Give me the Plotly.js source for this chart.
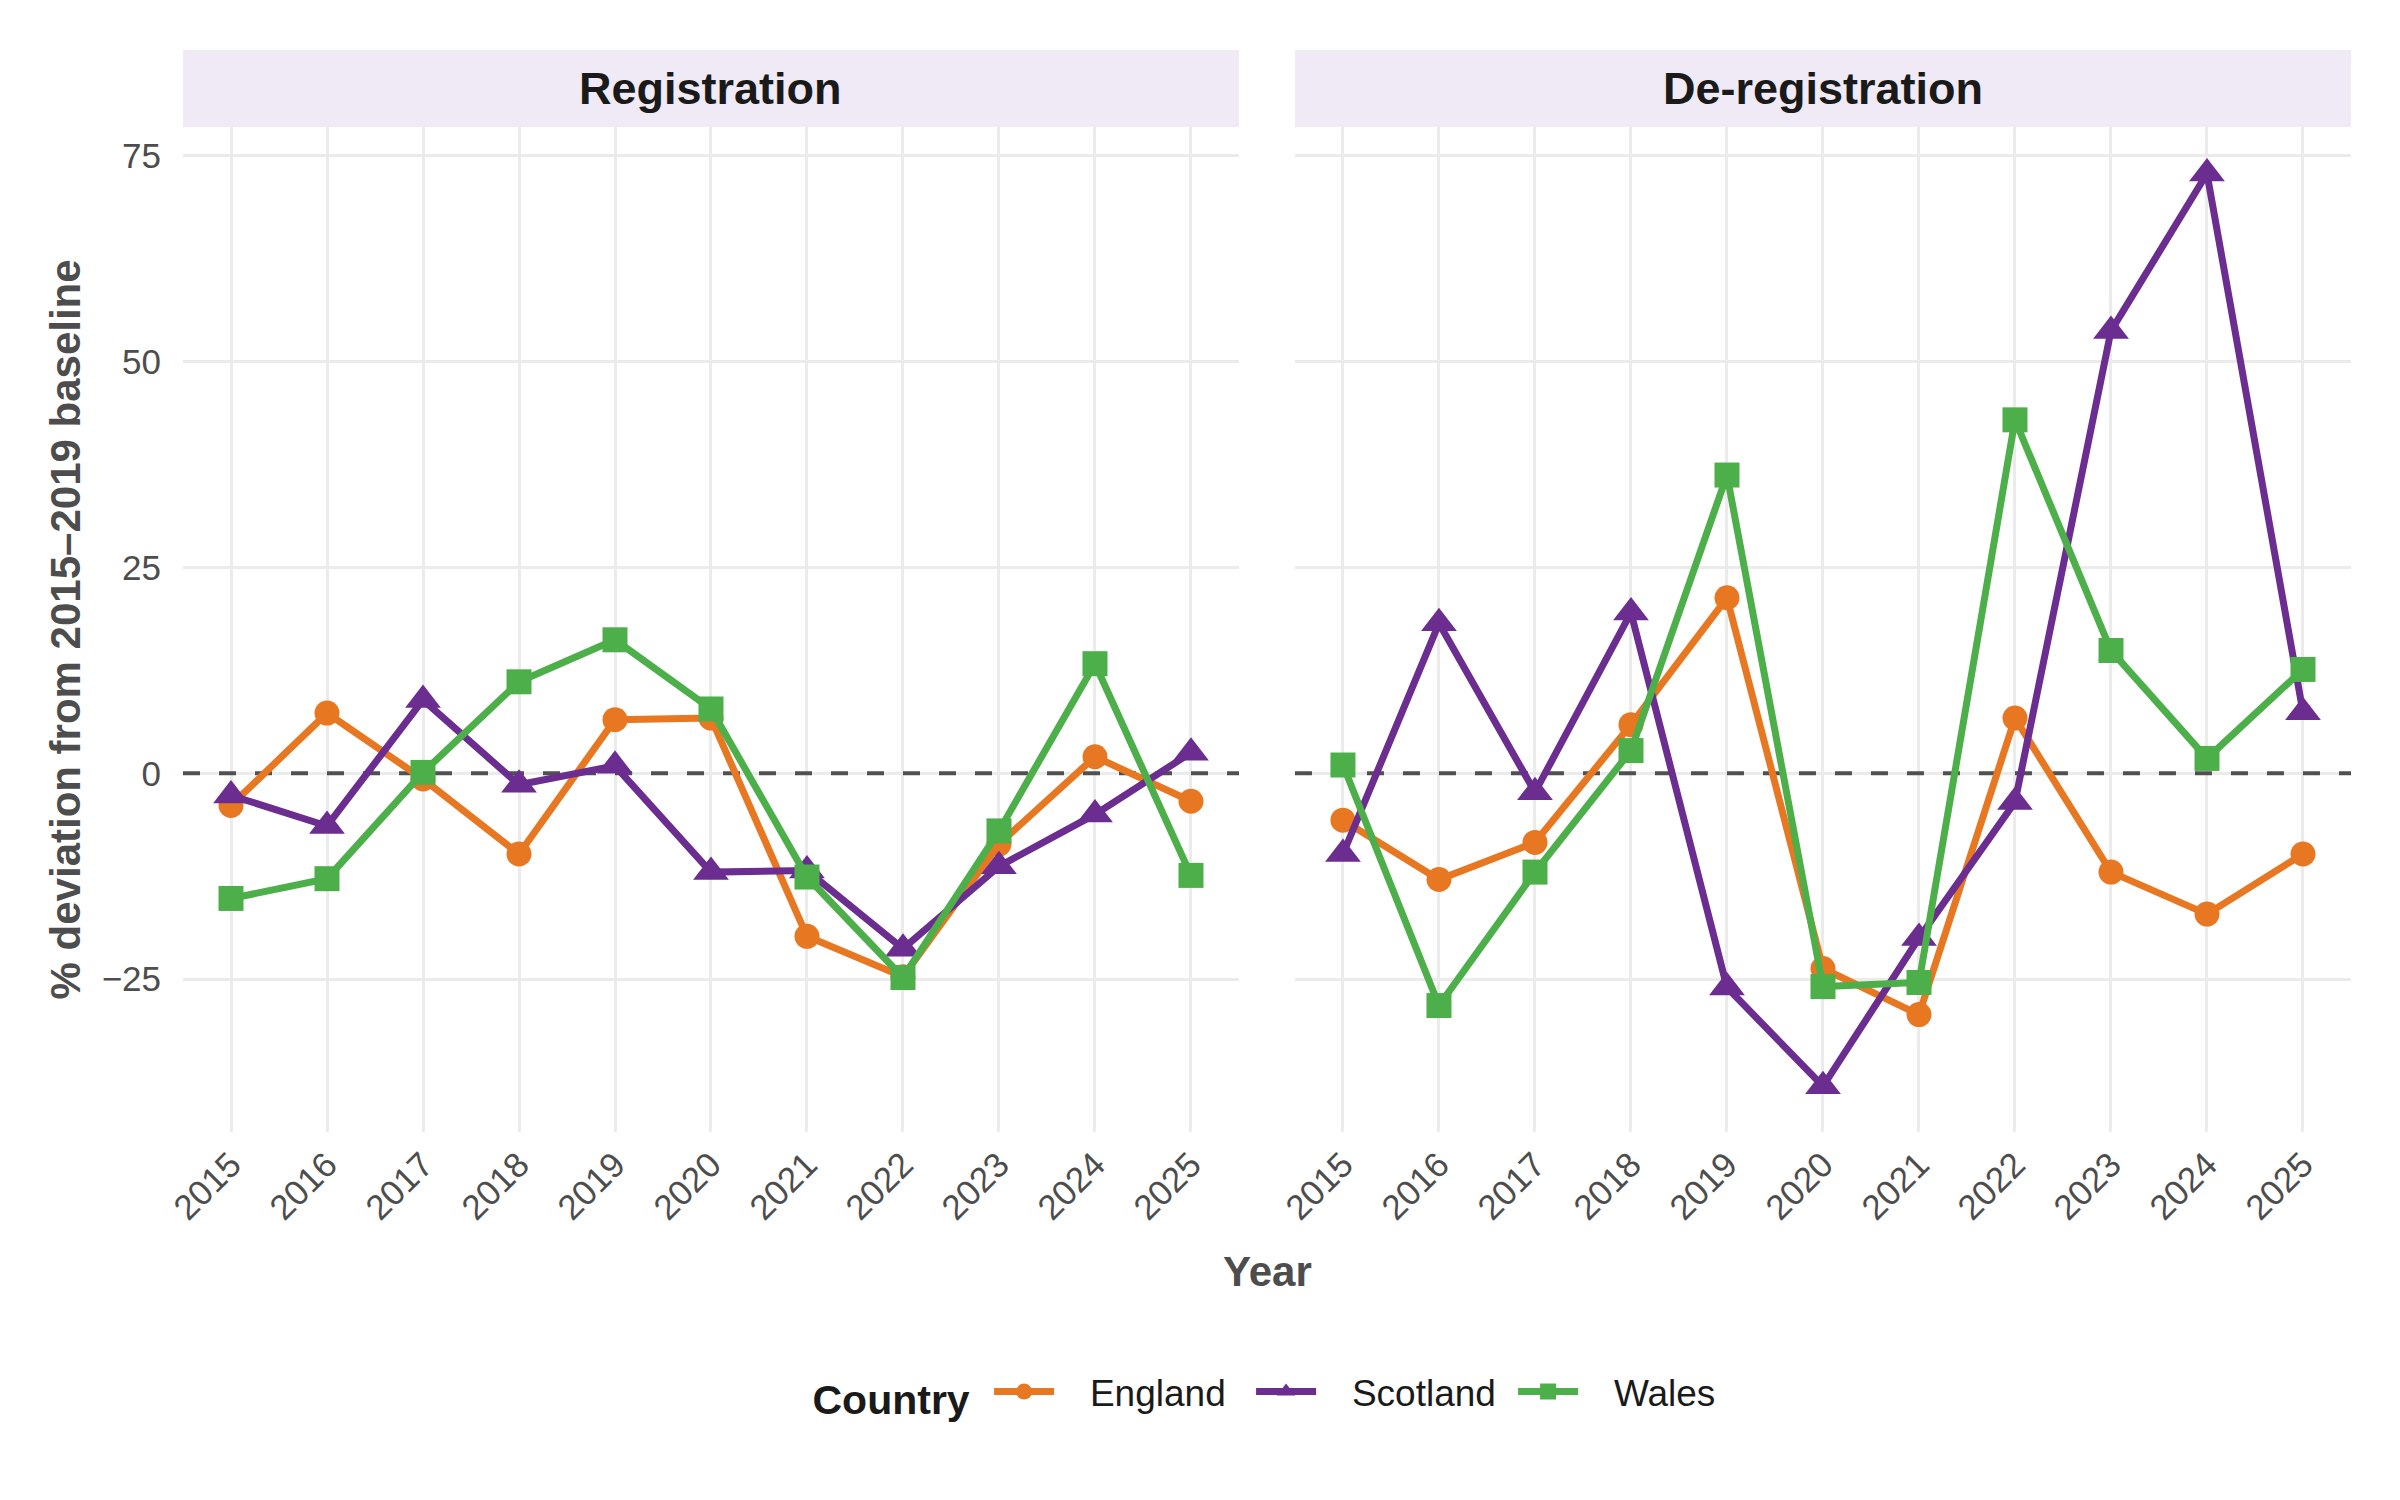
<!DOCTYPE html>
<html>
<head>
<meta charset="utf-8">
<script src="https://cdn.plot.ly/plotly-3.0.1.min.js"></script>
<style>
  body { margin: 0; background: #ffffff; }
  #chart { width: 2400px; height: 1500px; }
</style>
</head>
<body>
<div id="chart"></div>
<script>
const years = [2015, 2016, 2017, 2018, 2019, 2020, 2021, 2022, 2023, 2024, 2025];
const panels = ["Registration", "De-registration"];
const countries = ["England", "Scotland", "Wales"];

// % deviation from 2015-2019 baseline
const regEngland  = [-3.9, 7.3, -0.7, -9.8, 6.5, 6.7, -19.8, -24.7, -8.6, 2.0, -3.4];
const regScotland = [-2.7, -6.4, 8.9, -1.4, 0.9, -12.0, -11.8, -21.3, -11.3, -5.0, 2.5];
const regWales    = [-15.2, -12.8, 0.1, 11.1, 16.2, 7.8, -12.6, -24.8, -7.0, 13.3, -12.4];

const deregEngland  = [-5.7, -12.9, -8.4, 5.9, 21.3, -23.7, -29.3, 6.7, -12.0, -17.1, -9.8];
const deregScotland = [-9.8, 18.2, -2.3, 19.5, -26.0, -38.0, -20.0, -3.5, 53.7, 72.8, 7.4];
const deregWales    = [1.0, -28.2, -12.0, 2.75, 36.2, -25.9, -25.4, 42.9, 14.9, 1.8, 12.6];

const yTicks = [-25, 0, 25, 50, 75];
const yTickText = ["\u221225", "0", "25", "50", "75"];

const xRange = [2014.5, 2025.5];
const yRange = [-43.55, 78.45];

const colors = { England: "#E87722", Scotland: "#6B2D8F", Wales: "#4DAF4A" };
const symbols = { England: "circle", Scotland: "triangle-up", Wales: "square" };
const sizes = { England: 25, Scotland: 31, Wales: 25 };

const panelData = [
  { England: regEngland, Scotland: regScotland, Wales: regWales },
  { England: deregEngland, Scotland: deregScotland, Wales: deregWales }
];

const font = "Liberation Sans, Arial, sans-serif";
const grey = "#4D4D4D";
// gap between legend key and its label
const keyGap = "\u00a0\u00a0\u00a0";

let traces = [];
panelData.forEach(function(d, p) {
  countries.forEach(function(c) {
    traces.push({
      x: years,
      y: d[c],
      xaxis: p == 0 ? "x" : "x2",
      yaxis: p == 0 ? "y" : "y2",
      type: "scatter",
      mode: "lines+markers",
      name: keyGap + c,
      legendgroup: c,
      showlegend: p == 0,
      line: { color: colors[c], width: 7 },
      marker: { color: colors[c], symbol: symbols[c], size: sizes[c] }
    });
  });
});

const plotH = 1500 - 127 - 368;
const stripTop = 1 + (127 - 50) / plotH;
const domains = [[0, 0.48708], [0.5129, 1]];

function xAxis(dom) {
  return {
    domain: dom,
    range: xRange,
    tickvals: years,
    ticktext: years.map(String),
    tickangle: -45,
    tickfont: { family: font, size: 35, color: grey },
    showgrid: true,
    gridcolor: "#EBEBEB",
    gridwidth: 3,
    zeroline: false,
    showline: false,
    ticks: "",
    ticklabelstandoff: 4
  };
}

function yAxis(anchor, labels) {
  return {
    anchor: anchor,
    range: yRange,
    tickvals: yTicks,
    ticktext: yTickText,
    showticklabels: labels,
    tickfont: { family: font, size: 35, color: grey },
    showgrid: true,
    gridcolor: "#EBEBEB",
    gridwidth: 3,
    zeroline: false,
    showline: false,
    ticks: "",
    ticklabelstandoff: 21
  };
}

let shapes = [];
let annotations = [];
["x", "x2"].forEach(function(ax, i) {
  // dashed reference line at zero
  shapes.push({
    type: "line", layer: "between",
    xref: ax, x0: xRange[0], x1: xRange[1],
    yref: i == 0 ? "y" : "y2", y0: 0, y1: 0,
    line: { color: "#505050", width: 4, dash: "17px,19px" }
  });
  // facet strip
  shapes.push({
    type: "rect", layer: "above",
    xref: "paper", x0: domains[i][0], x1: domains[i][1],
    yref: "paper", y0: 1, y1: stripTop,
    fillcolor: "#EFEAF5",
    line: { width: 0 }
  });
  annotations.push({
    xref: "paper", x: (domains[i][0] + domains[i][1]) / 2,
    yref: "paper", y: (1 + stripTop) / 2,
    xanchor: "center", yanchor: "middle",
    text: "<b>" + panels[i] + "</b>",
    showarrow: false,
    font: { family: font, size: 45, color: "#1A1A1A" }
  });
});

annotations.push({
  xref: "paper", x: -0.054, yref: "paper", y: 0.5,
  xanchor: "center", yanchor: "middle", textangle: -90,
  text: "<b>% deviation from 2015\u20132019 baseline</b>",
  showarrow: false,
  font: { family: font, size: 42, color: grey }
});
annotations.push({
  xref: "paper", x: 0.5, yref: "paper", y: -(1271 - 1132) / plotH,
  xanchor: "center", yanchor: "middle",
  text: "<b>Year</b>",
  showarrow: false,
  font: { family: font, size: 42, color: grey }
});

const layout = {
  width: 2400,
  height: 1500,
  margin: { l: 183, r: 49, t: 127, b: 368 },
  paper_bgcolor: "#ffffff",
  plot_bgcolor: "#ffffff",
  font: { family: font, color: "#1A1A1A" },
  xaxis: xAxis(domains[0]),
  xaxis2: xAxis(domains[1]),
  yaxis: yAxis("x", true),
  yaxis2: yAxis("x2", false),
  shapes: shapes,
  annotations: annotations,
  legend: {
    orientation: "h",
    x: 0.512, xanchor: "center",
    y: -(1393 - 1132) / plotH, yanchor: "middle",
    title: { text: "<b>Country</b>\u00a0", side: "left", font: { family: font, size: 41, color: "#1A1A1A" } },
    font: { family: font, size: 37, color: "#1A1A1A" },
    itemwidth: 60,
    entrywidth: 187,
    entrywidthmode: "pixels",
    tracegroupgap: 0
  },
  showlegend: true
};

Plotly.newPlot("chart", traces, layout, { displayModeBar: false, staticPlot: true });
</script>
</body>
</html>
